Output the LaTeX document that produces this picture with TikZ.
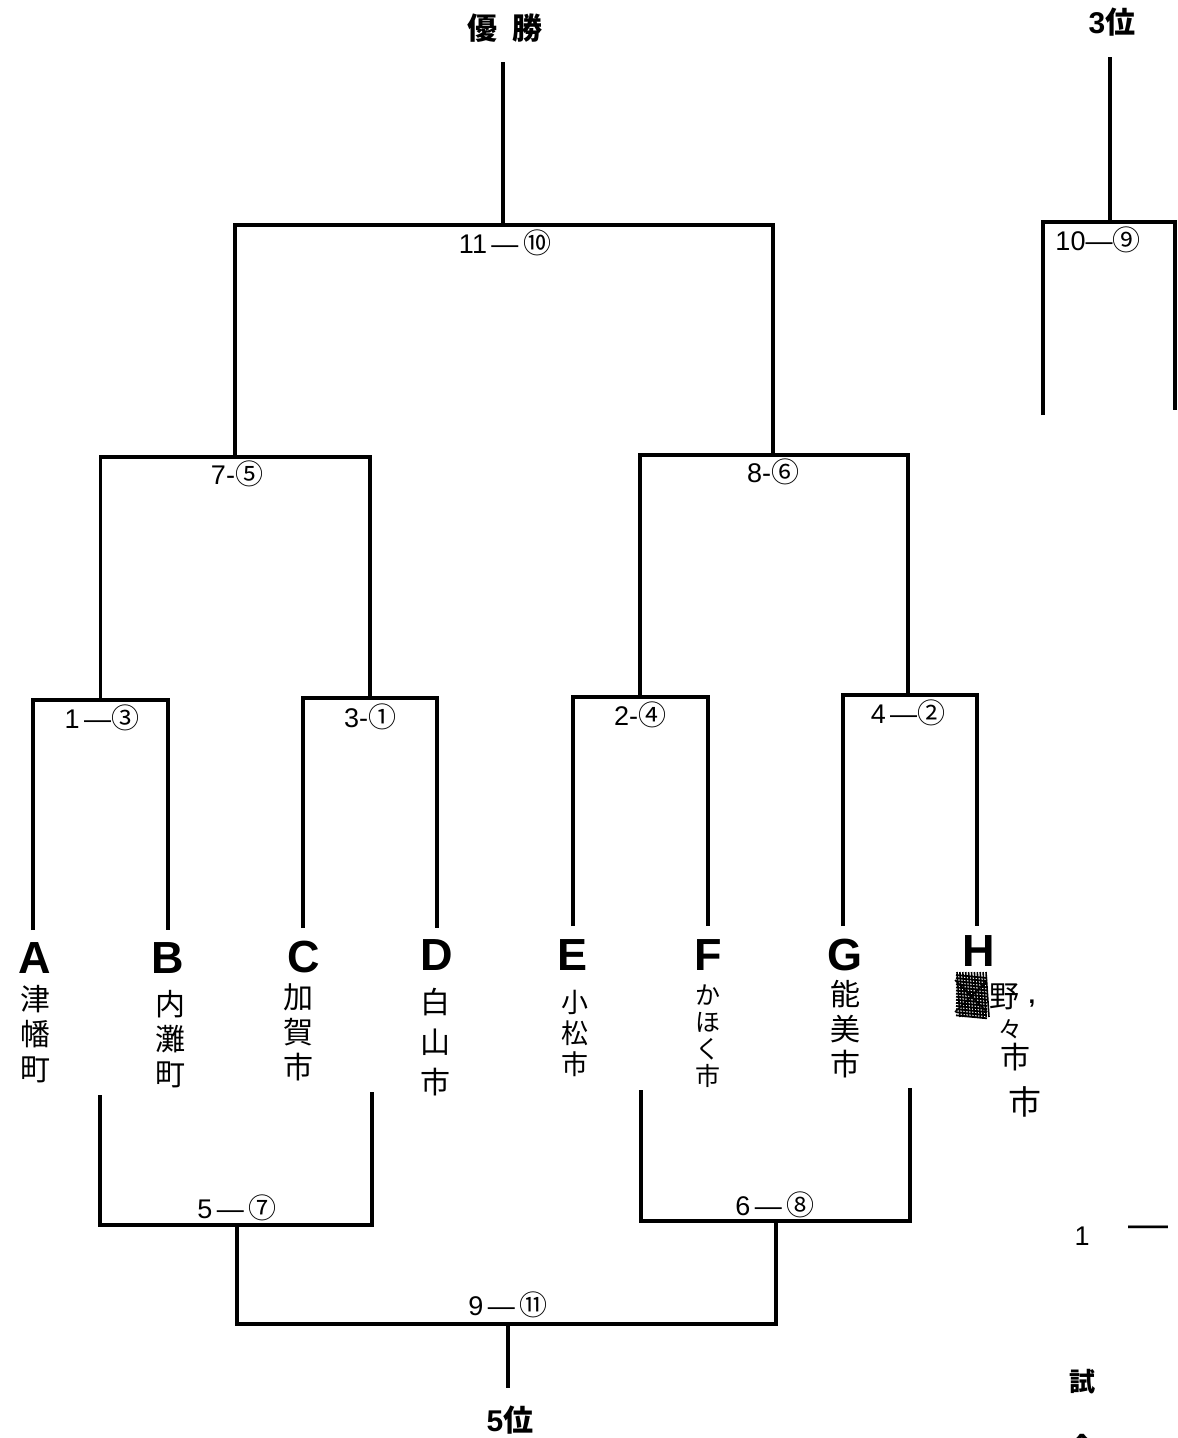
\documentclass[tikz,border=0pt]{standalone}
\usepackage{fontspec}
\setmainfont{Liberation Sans}
\newfontfamily\jp{Noto Sans CJK JP}
\newcommand\cn[1]{{\jp\fontsize{28}{30}\selectfont #1}}
\begin{document}
\begin{tikzpicture}[x=1pt,y=-1pt,
  br/.style={line width=3.5pt, line join=miter},
  lbl/.style={font=\fontsize{27}{30}\selectfont, inner sep=0pt},
  team/.style={font=\bfseries\fontsize{45}{50}\selectfont, inner sep=0pt},
  nm/.style={font=\jp\fontsize{30}{35}\selectfont, align=center, inner sep=0pt, anchor=north},
  hw/.style={font=\jp\fontsize{30}{34}\selectfont, inner sep=0pt},
  ttl/.style={font=\jp\bfseries\fontsize{30}{32}\selectfont, inner sep=0pt}]
\useasboundingbox (0,0) rectangle (1178,1438);
\fill[white] (0,0) rectangle (1178,1438);

% titles
\node[ttl] (win) at (505,28) {優\hspace{0.5em}勝};
\node[ttl] (third) at (1112,22) {{\rmfamily\bfseries 3}位};
\node[ttl] (fifth) at (510,1420) {{\rmfamily\bfseries 5}位};

% coordinates
\coordinate (tA) at (33,930);
\coordinate (tB) at (168,930);
\coordinate (tC) at (303,928);
\coordinate (tD) at (437,928);
\coordinate (tE) at (573,926);
\coordinate (tF) at (708,926);
\coordinate (tG) at (843,926);
\coordinate (tH) at (977,926);
\coordinate (m1) at (100.5,700);
\coordinate (m2) at (370,698);
\coordinate (m3) at (640,697);
\coordinate (m4) at (908,695);
\coordinate (m5) at (235,457);
\coordinate (m6) at (773,455);
\coordinate (mF) at (503,225);
\coordinate (wt) at (503,62);
\coordinate (b3) at (1110,222);
\coordinate (t3) at (1110,57);
\coordinate (l3) at (1043,415);
\coordinate (r3) at (1175,410);
\coordinate (s1) at (100,1095);
\coordinate (s2) at (372,1092);
\coordinate (s3) at (641,1090);
\coordinate (s4) at (910,1088);
\coordinate (c5) at (237,1225);
\coordinate (c6) at (776,1221);
\coordinate (c9) at (508,1324);
\coordinate (p5) at (508,1388);

% main bracket
\draw[br] (tA) |- (m1) -| (tB);
\draw[br] (tC) |- (m2) -| (tD);
\draw[br] (tE) |- (m3) -| (tF);
\draw[br] (tG) |- (m4) -| (tH);
\draw[br] (m1) |- (m5) -| (m2);
\draw[br] (m3) |- (m6) -| (m4);
\draw[br] (m5) |- (mF) -| (m6);
\draw[br] (mF) -- (wt);

% third place
\draw[br] (l3) |- (b3) -| (r3);
\draw[br] (b3) -- (t3);

% fifth place
\draw[br] (s1) |- (c5) -| (s2);
\draw[br] (s3) |- (c6) -| (s4);
\draw[br] (c5) |- (c9) -| (c6);
\draw[br] (c9) -- (p5);

% match labels
\node[lbl] (L11) at (505,243) {11\,—\,\cn{⑩}};
\node[lbl] (L7) at (237,474) {7-\cn{⑤}};
\node[lbl] (L8) at (773,472) {8-\cn{⑥}};
\node[lbl] (L1) at (102,718) {1\,—\cn{③}};
\node[lbl] (L3) at (370,717) {3-\cn{①}};
\node[lbl] (L2) at (640,715) {2-\cn{④}};
\node[lbl] (L4) at (908,713) {4\,—\cn{②}};
\node[lbl] (L10) at (1098,240) {10—\cn{⑨}};
\node[lbl] (L5) at (237,1208) {5\,—\,\cn{⑦}};
\node[lbl] (L6) at (775,1205) {6\,—\,\cn{⑧}};
\node[lbl] (L9) at (508,1305) {9\,—\,\cn{⑪}};

% team letters
\node[team] (A) at (35,958) {A};
\node[team] (B) at (168,958) {B};
\node[team] (C) at (304,957) {C};
\node[team] (D) at (437,955) {D};
\node[team] (E) at (573,955) {E};
\node[team] (F) at (708,955) {F};
\node[team] (G) at (845,955) {G};
\node[team] (H) at (979,951) {H};

% team names (handwritten)
\node[nm] (nA) at (35,985) {津\\幡\\町};
\node[nm] (nB) at (170,990) {内\\灘\\町};
\node[nm] (nC) at (298,983) {加\\賀\\市};
\node[nm, font=\jp\fontsize{30}{40}\selectfont] (nD) at (435,988) {白\\山\\市};
\node[nm, font=\jp\fontsize{27}{31}\selectfont] (nE) at (575,990) {小\\松\\市};
\node[nm, font=\jp\fontsize{25}{27}\selectfont] (nF) at (708,985) {か\\ほ\\く\\市};
\node[nm] (nG) at (845,980) {能\\美\\市};

% H name with scribbled-out character
\foreach \i in {0,...,13}{
  \draw[line width=1.8pt] (956,975+3.1*\i) -- (987,978+3.1*\i);
}
\foreach \i in {0,...,10}{
  \draw[line width=1.6pt] (957+2.9*\i,972) -- (960+2.9*\i,1017);
}
\draw[line width=1.5pt] (955,980) -- (987,1012) (955,1012) -- (986,982);
\node[hw] (h1) at (1004,997) {野};
\node[hw, font=\rmfamily\bfseries\fontsize{24}{26}\selectfont] (hc) at (1032,1004) {,};
\node[hw, font=\jp\fontsize{24}{26}\selectfont] (h2) at (1010,1029) {々};
\node[hw] (h3) at (1015,1057) {市};
\node[hw, font=\jp\fontsize{33}{36}\selectfont] (h4) at (1025,1102) {市};

% bottom right fragments
\node[lbl, font=\fontsize{27}{30}\selectfont] (r1) at (1082,1236) {1};
\node[lbl, font=\fontsize{40}{42}\selectfont] (r2) at (1148,1232) {—};
\node[ttl, font=\jp\bfseries\fontsize{26}{28}\selectfont] (r3t) at (1082,1382) {試};
\node[ttl, font=\jp\bfseries\fontsize{26}{28}\selectfont] (r4t) at (1082,1447) {合};
\end{tikzpicture}
\end{document}
